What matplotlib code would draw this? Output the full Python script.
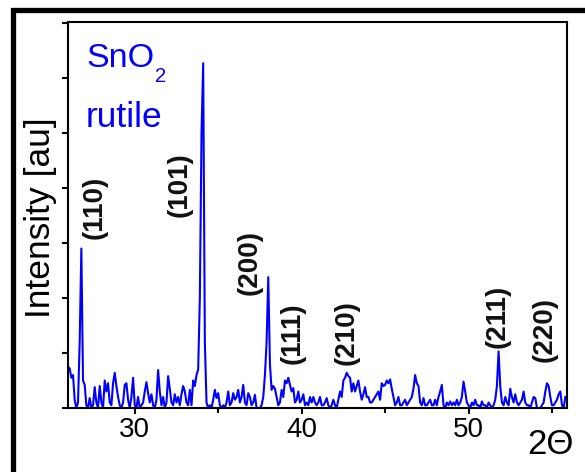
import matplotlib
matplotlib.use("Agg")
import matplotlib.pyplot as plt
import matplotlib.patches as patches
import numpy as np

plt.rcParams['font.family'] = ['Liberation Sans', 'DejaVu Sans']

# 2theta grid, 0.1 deg step from 26.0 to 55.8
two_theta = np.round(np.arange(260, 559) / 10.0, 1)

# intensity, one row per degree
intensity = [
    0.75, 0.72, 0.55, 0.60, 0.15, 0.00, 0.10, 1.20, 2.90, 0.50,   # 26
    0.42, 0.05, 0.00, 0.18, 0.00, 0.05, 0.38, 0.10, 0.00, 0.40,   # 27
    0.10, 0.00, 0.50, 0.30, 0.45, 0.10, 0.05, 0.45, 0.64, 0.40,   # 28
    0.20, 0.05, 0.00, 0.10, 0.42, 0.45, 0.15, 0.00, 0.20, 0.55,   # 29
    0.05, 0.00, 0.20, 0.00, 0.05, 0.10, 0.30, 0.47, 0.27, 0.10,   # 30
    0.25, 0.05, 0.00, 0.15, 0.69, 0.30, 0.05, 0.20, 0.00, 0.10,   # 31
    0.58, 0.35, 0.10, 0.05, 0.25, 0.10, 0.20, 0.05, 0.25, 0.40,   # 32
    0.30, 0.10, 0.05, 0.33, 0.05, 0.50, 0.40, 0.60, 0.70, 2.00,   # 33
    5.00, 6.27, 1.20, 0.10, 0.00, 0.05, 0.00, 0.15, 0.33, 0.18,   # 34
    0.27, 0.05, 0.00, 0.05, 0.00, 0.10, 0.30, 0.05, 0.10, 0.27,   # 35
    0.15, 0.20, 0.33, 0.10, 0.20, 0.42, 0.10, 0.05, 0.27, 0.20,   # 36
    0.05, 0.10, 0.24, 0.00, 0.00, 0.00, 0.05, 0.20, 0.60, 1.20,   # 37
    2.38, 0.80, 0.33, 0.40, 0.35, 0.20, 0.05, 0.10, 0.33, 0.20,   # 38
    0.50, 0.45, 0.55, 0.42, 0.30, 0.36, 0.10, 0.15, 0.30, 0.10,   # 39
    0.15, 0.25, 0.05, 0.10, 0.05, 0.20, 0.10, 0.20, 0.10, 0.05,   # 40
    0.10, 0.20, 0.05, 0.05, 0.10, 0.18, 0.05, 0.00, 0.05, 0.15,   # 41
    0.05, 0.00, 0.15, 0.30, 0.20, 0.50, 0.55, 0.64, 0.58, 0.55,   # 42
    0.30, 0.45, 0.30, 0.40, 0.50, 0.30, 0.15, 0.25, 0.38, 0.20,   # 43
    0.20, 0.10, 0.10, 0.15, 0.20, 0.25, 0.30, 0.15, 0.45, 0.40,   # 44
    0.42, 0.50, 0.45, 0.52, 0.35, 0.20, 0.05, 0.10, 0.20, 0.05,   # 45
    0.05, 0.10, 0.15, 0.05, 0.10, 0.15, 0.20, 0.35, 0.60, 0.45,   # 46
    0.40, 0.10, 0.05, 0.18, 0.05, 0.05, 0.10, 0.15, 0.05, 0.05,   # 47
    0.15, 0.05, 0.20, 0.30, 0.42, 0.05, 0.00, 0.10, 0.05, 0.12,   # 48
    0.05, 0.10, 0.05, 0.15, 0.05, 0.10, 0.20, 0.48, 0.30, 0.10,   # 49
    0.05, 0.00, 0.10, 0.05, 0.15, 0.05, 0.05, 0.00, 0.12, 0.05,   # 50
    0.05, 0.00, 0.10, 0.05, 0.00, 0.05, 0.15, 0.40, 1.03, 0.40,   # 51
    0.10, 0.05, 0.20, 0.10, 0.05, 0.35, 0.20, 0.10, 0.25, 0.10,   # 52
    0.05, 0.10, 0.15, 0.30, 0.10, 0.05, 0.05, 0.00, 0.10, 0.20,   # 53
    0.18, 0.00, 0.00, 0.00, 0.05, 0.10, 0.30, 0.45, 0.40, 0.20,   # 54
    0.05, 0.05, 0.10, 0.15, 0.25, 0.30, 0.05, 0.00, 0.20,         # 55
]

# reflection labels and where they sit
hkl = ['(110)', '(101)', '(200)', '(111)', '(210)', '(211)', '(220)']
hkl_x = [27.62, 32.70, 36.90, 39.47, 42.70, 51.75, 54.57]
hkl_y = [3.65, 4.07, 2.65, 1.36, 1.38, 1.67, 1.42]

fig = plt.figure(figsize=(5.85, 4.72), dpi=100)
ax = fig.add_axes([68/585, 1 - 408/472, (567 - 68)/585, (408 - 22)/472])

ax.plot(two_theta, intensity, color='#0000ff', lw=1.5)

for lab, x, y in zip(hkl, hkl_x, hkl_y):
    ax.text(x, y, lab, rotation=90, ha='center', va='center',
            fontsize=20, fontweight='bold', color='#111111')

ax.set_xlim(26, 55.9)
ax.set_ylim(0, 7.02)
ax.set_xticks([30, 40, 50])
ax.set_xticks([35, 45, 55], minor=True)
ax.set_yticks(range(0, 8))
ax.set_yticklabels([])
ax.tick_params(axis='x', which='major', direction='out', length=4.5, width=1.5,
               labelsize=20, pad=2, top=False)
ax.tick_params(axis='x', which='minor', direction='out', length=3.5, width=1.5, top=False)
ax.tick_params(axis='y', direction='out', length=4.5, width=1.5, right=False)
for s in ax.spines.values():
    s.set_linewidth(1.5)

fig.text(41/585, 1 - 218/472, 'Intensity [au]', rotation=90, ha='center', va='center',
         fontsize=25.5)
fig.text(86/585, 1 - 67/472, 'SnO', color='#0000ff', fontsize=24.5,
         ha='left', va='baseline')
fig.text(155/585, 1 - 82/472, '2', color='#0000ff', fontsize=14.5,
         ha='left', va='baseline')
fig.text(86/585, 1 - 127/472, 'rutile', color='#0000ff', fontsize=25.5,
         ha='left', va='baseline')
fig.text(550/585, 1 - 445/472, '2\u0398', fontsize=25, ha='center', va='center')

# outer black frame running off the right and bottom edge
fig.patches.append(patches.Rectangle((12.5/585, -0.2), 1.2, 1.2 - 10/472, fill=False,
                                     lw=3.8, ec='black', transform=fig.transFigure))

fig.savefig('out.png', dpi=100)
